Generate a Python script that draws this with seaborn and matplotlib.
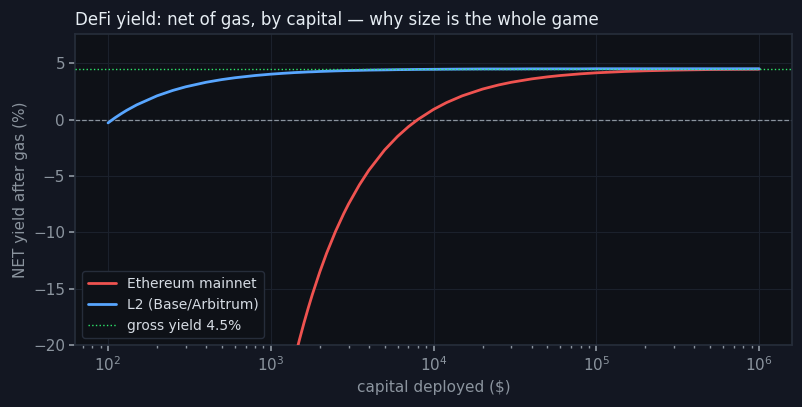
import matplotlib
matplotlib.use("Agg")
import matplotlib.pyplot as plt
import seaborn as sns
import pandas as pd
from matplotlib.lines import Line2D

capital = [100, 110, 120, 130, 150, 200, 250, 300, 400, 500, 600, 800,
           1000, 1200, 1300, 1400, 1500, 1600, 1700, 1800, 2000, 2200, 2500,
           2800, 3000, 3500, 4000, 5000, 6000, 7000, 8000, 10000, 12000,
           15000, 20000, 25000, 30000, 40000, 50000, 60000, 80000, 100000,
           150000, 200000, 300000, 500000, 1000000]

eth_net = [-355.5, -322.8, -295.5, -272.4, -235.5, -175.5, -139.5, -115.5,
           -85.5, -67.5, -55.5, -40.5, -31.5, -25.5, -23.19, -21.21, -19.5,
           -18.0, -16.68, -15.5, -13.5, -11.86, -9.9, -8.36, -7.5, -5.79,
           -4.5, -2.7, -1.5, -0.64, 0.0, 0.9, 1.5, 2.1, 2.7, 3.06, 3.3, 3.6,
           3.78, 3.9, 4.05, 4.14, 4.26, 4.32, 4.38, 4.43, 4.46]

l2_net = [-0.3, 0.14, 0.5, 0.81, 1.3, 2.1, 2.58, 2.9, 3.3, 3.54, 3.7, 3.9,
          4.02, 4.1, 4.13, 4.16, 4.18, 4.2, 4.22, 4.23, 4.26, 4.28, 4.31,
          4.33, 4.34, 4.36, 4.38, 4.40, 4.42, 4.43, 4.44, 4.45, 4.46, 4.47,
          4.48, 4.48, 4.48, 4.49, 4.49, 4.49, 4.49, 4.5, 4.5, 4.5, 4.5, 4.5,
          4.5]

series_names = ["Ethereum mainnet", "L2 (Base/Arbitrum)"]
gross_yield = 4.5

FIG_BG = "#131722"
AX_BG = "#0e1117"
TEXT = "#e6edf3"
MUTED = "#8b949e"
GRID = "#1b212c"
SPINE = "#262d3a"
RED = "#ef5350"
BLUE = "#58a6ff"
GREEN = "#2ee66b"

df = pd.DataFrame({
    "capital": capital * 2,
    "net": eth_net + l2_net,
    "network": [series_names[0]] * len(capital) + [series_names[1]] * len(capital),
})

sns.set_theme(style="dark")
plt.rcParams["font.family"] = ["DejaVu Sans"]

fig, ax = plt.subplots(figsize=(8.03, 4.07), dpi=100)
fig.patch.set_facecolor(FIG_BG)
ax.set_facecolor(AX_BG)

ax.axhline(0, color=MUTED, ls="--", lw=0.9, zorder=1)
sns.lineplot(data=df, x="capital", y="net", hue="network",
             palette={series_names[0]: RED, series_names[1]: BLUE},
             lw=2, ax=ax, zorder=3, legend=False)
ax.axhline(gross_yield, color=GREEN, ls=":", lw=1.0, zorder=4)

ax.set_xscale("log")
ax.set_ylim(-20, 7.6)
ax.set_yticks([-20, -15, -10, -5, 0, 5])

ax.grid(True, which="major", color=GRID, lw=0.8)
for s in ax.spines.values():
    s.set_color(SPINE)
ax.tick_params(colors=MUTED, labelsize=11, which="both", bottom=True, left=True)
ax.tick_params(which="major", length=4)
ax.tick_params(which="minor", length=2)

ax.set_title("DeFi yield: net of gas, by capital \u2014 why size is the whole game",
             loc="left", color=TEXT, fontsize=12)
ax.set_xlabel("capital deployed ($)", color=MUTED, fontsize=11)
ax.set_ylabel("NET yield after gas (%)", color=MUTED, fontsize=11)

handles = [Line2D([], [], color=RED, lw=2),
           Line2D([], [], color=BLUE, lw=2),
           Line2D([], [], color=GREEN, lw=1.0, ls=":")]
labels = series_names + ["gross yield 4.5%"]
leg = ax.legend(handles, labels, loc="lower left", fontsize=10,
                facecolor=AX_BG, edgecolor=SPINE, framealpha=1)
for t in leg.get_texts():
    t.set_color("#d5dbe3")

fig.subplots_adjust(left=0.094, right=0.986, top=0.917, bottom=0.152)
fig.savefig("out.png", dpi=100, facecolor=FIG_BG)
